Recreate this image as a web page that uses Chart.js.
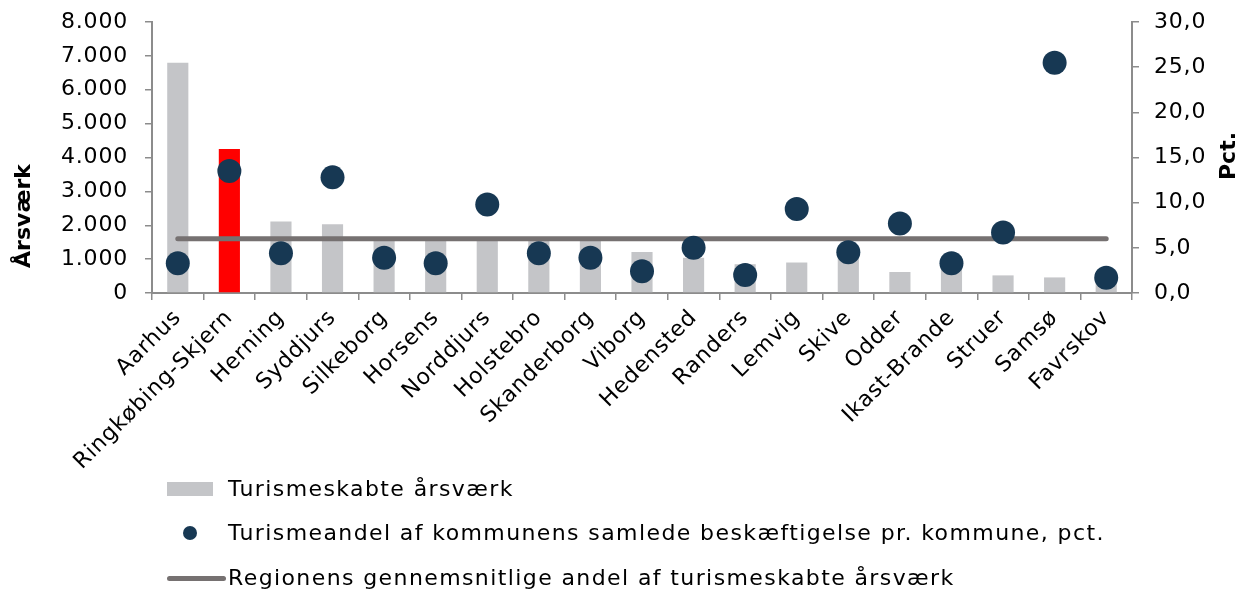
<!DOCTYPE html>
<html><head><meta charset="utf-8">
<script src="https://cdn.jsdelivr.net/npm/chart.js@4/dist/chart.umd.min.js"></script>
<style>
html,body{margin:0;padding:0;background:#fff;}
#wrap{position:relative;width:1242px;height:592px;overflow:hidden;}
canvas{position:absolute;left:0;top:0;}
.lt{position:absolute;left:228px;font-family:'DejaVu Sans';font-size:22px;color:#000;white-space:nowrap;letter-spacing:1.4px;line-height:24px;}
.sw{position:absolute;}
</style></head><body>
<div id="wrap"><canvas id="c" width="1242" height="592"></canvas>
<div id="legend"></div></div>
<script>
const categories = ['Aarhus','Ringkøbing-Skjern','Herning','Syddjurs','Silkeborg','Horsens','Norddjurs','Holstebro','Skanderborg','Viborg','Hedensted','Randers','Lemvig','Skive','Odder','Ikast-Brande','Struer','Samsø','Favrskov'];
const jobs = [6800, 4250, 2110, 2030, 1600, 1600, 1650, 1590, 1580, 1210, 1040, 850, 900, 1250, 620, 850, 520, 460, 350];
const share = [3.3, 13.5, 4.4, 12.8, 3.9, 3.3, 9.8, 4.4, 3.9, 2.4, 5.0, 2.0, 9.3, 4.5, 7.7, 3.3, 6.7, 25.5, 1.7];
const regionAvg = [6.0, 6.0, 6.0, 6.0, 6.0, 6.0, 6.0, 6.0, 6.0, 6.0, 6.0, 6.0, 6.0, 6.0, 6.0, 6.0, 6.0, 6.0, 6.0];
const leftTicks = [0, 1000, 2000, 3000, 4000, 5000, 6000, 7000, 8000];
const rightTicks = [0, 5, 10, 15, 20, 25, 30];
const highlight = 'Ringkøbing-Skjern';
const seriesNames = ['Turismeskabte årsværk','Turismeandel af kommunens samlede beskæftigelse pr. kommune, pct.','Regionens gennemsnitlige andel af turismeskabte årsværk'];
const axisTitles = ['Årsværk','Pct.'];

const GREY = '#c4c5c8', RED = '#ff0000', DOT = '#173853', LINE = '#767171', AX = '#8c8c8c';
const FONT = 'DejaVu Sans';

const spacingPlugin = {
  id: 'spacing',
  beforeDraw(chart) { chart.ctx.letterSpacing = '0.8px'; },
  afterDraw(chart) { chart.ctx.letterSpacing = '0px'; }
};

const titlePlugin = {
  id: 'axisTitles',
  afterDraw(chart) {
    const ctx = chart.ctx;
    const draw = (t, x, y) => {
      ctx.save();
      ctx.fillStyle = '#000';
      ctx.font = 'bold 22px "' + FONT + '"';
      ctx.textAlign = 'center';
      ctx.textBaseline = 'middle';
      ctx.translate(x, y); ctx.rotate(-Math.PI/2); ctx.fillText(t, 0, 0);
      ctx.restore();
    };
    draw(axisTitles[0], 24, 216);
    draw(axisTitles[1], 1229, 156);
  }
};

function vFit(w) {
  return function (s) { s.width = w; s.paddingTop = 0; s.paddingBottom = 0; };
}

new Chart(document.getElementById('c'), {
  type: 'bar',
  data: {
    labels: categories,
    datasets: [
      { type: 'line', label: seriesNames[1], data: share, yAxisID: 'y1', showLine: false,
        pointRadius: 12, pointHoverRadius: 12, pointBackgroundColor: DOT, pointBorderColor: DOT, pointBorderWidth: 0, order: 0 },
      { type: 'line', label: seriesNames[2], data: regionAvg, yAxisID: 'y1', borderColor: LINE, borderWidth: 5,
        borderCapStyle: 'round', pointRadius: 0, fill: false, order: 1 },
      { type: 'bar', label: seriesNames[0], data: jobs, yAxisID: 'y',
        backgroundColor: categories.map(c => c === highlight ? RED : GREY), borderWidth: 0,
        barPercentage: 0.41, categoryPercentage: 1.0, order: 2 }
    ]
  },
  options: {
    responsive: false, animation: false, devicePixelRatio: 1,
    layout: { padding: { top: 22, bottom: 0, left: 0, right: 0 } },
    plugins: { legend: { display: false }, tooltip: { enabled: false } },
    scales: {
      x: {
        offset: true,
        grid: { display: true, drawOnChartArea: false, drawTicks: true, tickLength: 7, color: AX, lineWidth: 1.5, offset: true },
        border: { display: true, color: AX, width: 2 },
        ticks: { color: '#000', font: { family: FONT, size: 22 }, maxRotation: 45, minRotation: 45, padding: 5, autoSkip: false },
        afterFit(s) { s.height = 299; s.paddingLeft = 0; s.paddingRight = 0; }
      },
      y: {
        position: 'left', min: 0, max: 8000,
        afterBuildTicks(s) { s.ticks = leftTicks.map(v => ({ value: v })); },
        grid: { display: true, drawOnChartArea: false, drawTicks: true, tickLength: 7, color: AX, lineWidth: 1.5 },
        border: { display: true, color: AX, width: 2 },
        ticks: { color: '#000', font: { family: FONT, size: 22 }, padding: 17,
          callback: v => v.toLocaleString('da-DK', { maximumFractionDigits: 0 }).replace(/\u00a0/g, '.') },
        afterFit: vFit(152)
      },
      y1: {
        position: 'right', min: 0, max: 30,
        afterBuildTicks(s) { s.ticks = rightTicks.map(v => ({ value: v })); },
        grid: { display: true, drawOnChartArea: false, drawTicks: true, tickLength: 7, color: AX, lineWidth: 1.5 },
        border: { display: true, color: AX, width: 2 },
        ticks: { color: '#000', font: { family: FONT, size: 22 }, padding: 15,
          callback: v => Number(v).toFixed(1).replace('.', ',') },
        afterFit: vFit(110)
      }
    }
  },
  plugins: [spacingPlugin, titlePlugin]
});

// HTML legend
const leg = document.getElementById('legend');
const rows = [489, 533, 578];
leg.innerHTML =
  '<div class="sw" style="left:167px;top:' + (rows[0]-7) + 'px;width:46px;height:14px;background:' + GREY + '"></div>' +
  '<div class="sw" style="left:183px;top:' + (rows[1]-7) + 'px;width:14px;height:14px;border-radius:50%;background:' + DOT + '"></div>' +
  '<div class="sw" style="left:167px;top:' + (rows[2]-2.5) + 'px;width:59px;height:5px;border-radius:3px;background:' + LINE + '"></div>' +
  seriesNames.map((n, i) => '<div class="lt" style="top:' + (rows[i]-12) + 'px">' + n + '</div>').join('');
</script>
</body></html>
